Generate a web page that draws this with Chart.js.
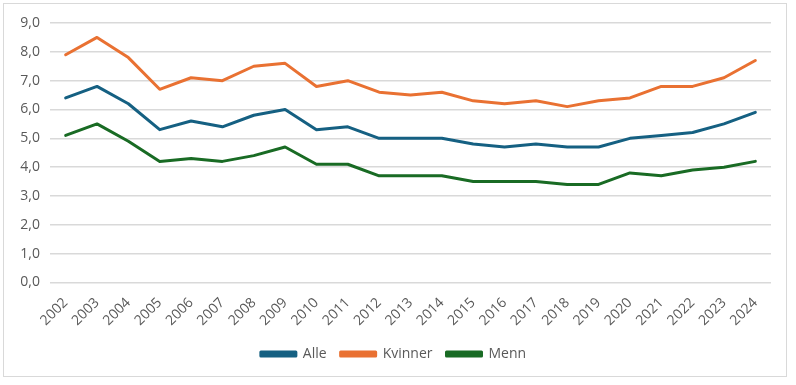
<!DOCTYPE html>
<html><head><meta charset="utf-8">
<script src="https://cdn.jsdelivr.net/npm/chart.js@4/dist/chart.umd.min.js"></script>
<style>
html,body{margin:0;padding:0;background:#fff;}
#box{position:absolute;left:3px;top:3px;width:784px;height:374px;border:1px solid #d9d9d9;box-sizing:border-box;}
#wrap{position:absolute;left:0;top:0;width:782px;height:372px;}
</style></head><body>
<div id="box"><div id="wrap"><canvas id="c"></canvas></div></div>
<script>
const years = ["2002","2003","2004","2005","2006","2007","2008","2009","2010","2011","2012","2013","2014","2015","2016","2017","2018","2019","2020","2021","2022","2023","2024"];
const alle = [6.4,6.8,6.2,5.3,5.6,5.4,5.8,6.0,5.3,5.4,5.0,5.0,5.0,4.8,4.7,4.8,4.7,4.7,5.0,5.1,5.2,5.5,5.9];
const kvinner = [7.9,8.5,7.8,6.7,7.1,7.0,7.5,7.6,6.8,7.0,6.6,6.5,6.6,6.3,6.2,6.3,6.1,6.3,6.4,6.8,6.8,7.1,7.7];
const menn = [5.1,5.5,4.9,4.2,4.3,4.2,4.4,4.7,4.1,4.1,3.7,3.7,3.7,3.5,3.5,3.5,3.4,3.4,3.8,3.7,3.9,4.0,4.2];
const seriesNames = ["Alle","Kvinner","Menn"];
const colors = ["#156082","#E97132","#196B24"];
const font = {family:"'Open Sans', 'Liberation Sans', sans-serif", size:14};
const mk = (name,data,col)=>({label:name,data:data,borderColor:col,backgroundColor:col,borderWidth:3,pointRadius:0,tension:0,borderCapStyle:'round',borderJoinStyle:'round'});
new Chart(document.getElementById('c'),{
  type:'line',
  data:{labels:years,datasets:[mk(seriesNames[0],alle,colors[0]),mk(seriesNames[1],kvinner,colors[1]),mk(seriesNames[2],menn,colors[2])]},
  options:{
    responsive:true,maintainAspectRatio:false,animation:false,
    layout:{padding:{left:12,right:15,top:19,bottom:5}},
    plugins:{
      legend:{position:'bottom',labels:{boxWidth:35,boxHeight:4,color:'#595959',font:font,padding:14}},
      tooltip:{enabled:false}
    },
    scales:{
      x:{offset:true,grid:{display:false},border:{display:false},
         ticks:{color:'#595959',font:font,minRotation:45,maxRotation:45,autoSkip:false,padding:4}},
      y:{min:0,max:9,border:{display:false},grid:{color:'#d9d9d9',lineWidth:1.5,drawTicks:false},
         ticks:{stepSize:1,color:'#595959',font:font,padding:10,callback:v=>v.toFixed(1).replace('.',',')},
         afterFit:s=>{s.width=34;}}
    }
  }
});
</script>
</body></html>
